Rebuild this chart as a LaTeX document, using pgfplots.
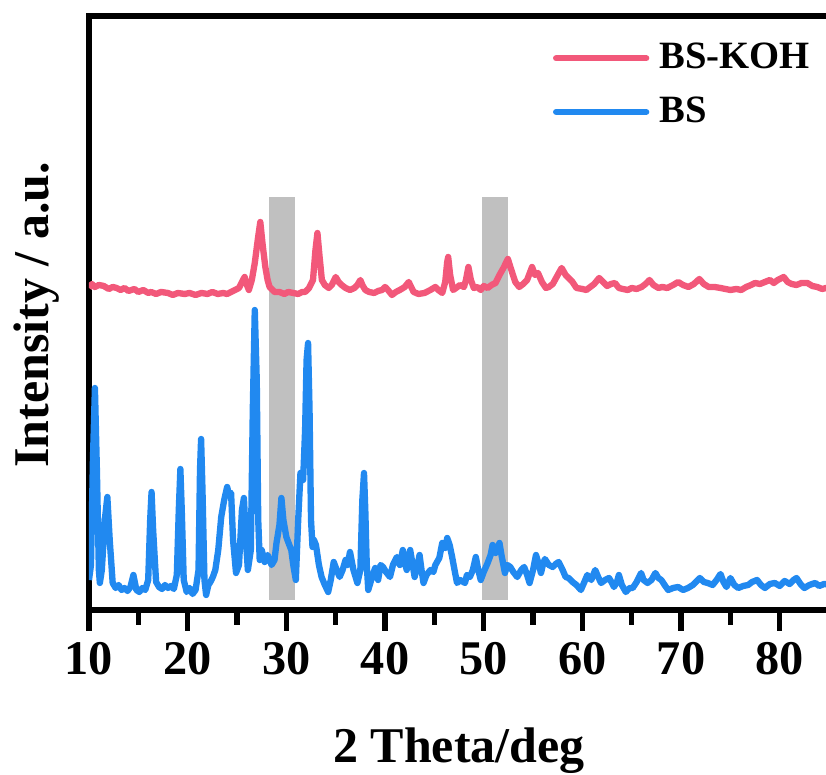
\documentclass[border=0pt]{standalone}
\usepackage{fontspec}
\setmainfont{Liberation Serif}
\usepackage{pgfplots}
\pgfplotsset{compat=1.18}
\definecolor{koh}{RGB}{242,88,122}
\definecolor{bs}{RGB}{33,137,240}
\definecolor{band}{RGB}{192,192,192}
\begin{document}
\begin{tikzpicture}
\begin{axis}[
 scale only axis, width=223.8pt, height=178.2pt,
 xmin=10, xmax=85.6, ymin=0, ymax=594,
 axis line style={line width=2pt},
 xtick={10,20,...,80}, minor xtick={15,25,...,85},
 xtick pos=lower, ytick=\empty,
 tick align=outside,
 major tick length=6.3pt, minor tick length=4.5pt,
 tick style={black, line width=1.6pt},
 /pgf/number format/assume math mode=true,
 xticklabel style={font=\bfseries\fontsize{14.5}{17}\selectfont},
 xlabel={2 Theta/deg},
 xlabel style={font=\bfseries\fontsize{15}{18}\selectfont, at={(axis description cs:0.496,0)}, anchor=base, inner sep=0pt, yshift=-45.9pt},
 ylabel={Intensity / a.u.},
 ylabel style={font=\bfseries\fontsize{15}{18}\selectfont, at={(axis description cs:-0.039,0.497)}, anchor=south, inner sep=0pt},
 legend style={at={(axis description cs:0.622,0.9545)}, anchor=north west, draw=none, fill=none, inner sep=0pt, outer sep=0pt, row sep=6.9pt, column sep=3pt, nodes={inner sep=0pt}, font=\bfseries\fontsize{11.6}{14}\selectfont},
 legend cell align=left,
 legend image code/.code={\draw[#1, line cap=round] (0pt,0pt) -- (27pt,0pt);},
 every axis plot/.append style={line width=1.9pt, line join=round},
]
\coordinate (sw) at (rel axis cs:0,0);
\coordinate (ne) at (rel axis cs:1,1);
\addplot[fill=band, draw=none, forget plot] coordinates {(28.24,10) (30.92,10) (30.92,413) (28.24,413)} --cycle;
\addplot[fill=band, draw=none, forget plot] coordinates {(49.87,10) (52.5,10) (52.5,413) (49.87,413)} --cycle;
\addplot[koh] table {
10.0 322
10.3 326
10.6 323
11.0 325
11.5 324
12.0 321
12.4 323
12.8 322
13.2 320
13.6 322
14.0 319
14.6 321
15.0 318
15.5 320
16.0 317
16.3 318
16.8 316
17.3 318
18.0 317
18.5 315
19.0 317
19.7 316
20.2 317
20.8 315
21.4 317
22.0 316
22.5 318
23.05 316
23.6 317
24.0 316
24.4 318
24.8 320
25.2 322
25.5 328
25.77 333
26.0 325
26.2 320
26.5 330
26.8 347
27.1 370
27.36 388
27.6 365
27.87 343
28.1 330
28.3 323
28.8 318
29.3 318
29.8 316
30.2 318
30.7 317
31.2 316
31.6 318
31.9 318
32.3 322
32.7 330
32.95 360
33.15 377
33.35 355
33.6 330
33.9 325
34.3 322
34.6 325
35.0 333
35.3 328
35.6 325
36.0 322
36.45 320
36.9 322
37.2 325
37.5 330
37.7 325
38.0 320
38.4 318
38.9 317
39.3 319
39.7 320
40.0 323
40.3 320
40.7 315
41.1 318
41.5 320
42.0 323
42.4 328
42.6 324
42.9 318
43.4 316
44.0 317
44.6 320
45.1 323
45.4 320
45.8 317
46.1 328
46.3 348
46.4 353
46.6 335
46.9 320
47.2 322
47.6 325
48.0 323
48.2 330
48.45 343
48.7 330
49.0 322
49.35 323
49.7 320
50.0 324
50.4 322
50.8 325
51.2 327
51.6 335
52.0 342
52.45 351
52.8 340
53.2 328
53.6 323
54.0 326
54.4 330
54.9 343
55.2 335
55.5 337
55.9 328
56.3 322
56.6 323
57.0 326
57.5 335
57.9 342
58.3 335
58.6 332
59.0 328
59.4 322
60.0 321
60.4 320
60.8 323
61.2 326
61.7 332
62.1 328
62.5 324
62.9 326
63.3 327
63.7 322
64.1 321
64.6 320
65.0 322
65.5 321
66.0 323
66.4 326
66.8 330
67.2 325
67.7 322
68.1 323
68.6 322
69.2 325
69.7 328
70.2 325
70.75 323
71.3 326
71.85 331
72.3 326
72.8 323
73.4 323
74.0 322
74.5 321
75.0 320
75.6 321
76.1 320
76.6 323
77.1 325
77.5 327
78.0 326
78.5 328
79.0 330
79.4 327
79.8 330
80.4 333
80.8 328
81.2 326
81.7 325
82.2 327
82.8 327
83.3 324
83.8 323
84.3 321
84.7 322
85.6 322
};
\addlegendentry{BS-KOH}
\addplot[bs] table {
10.0 30
10.2 45
10.4 150
10.6 222
10.8 140
11.0 40
11.1 27
11.3 40
11.6 90
11.86 113
12.1 70
12.4 27
12.7 22
13.0 25
13.3 20
13.6 22
13.9 19
14.2 23
14.5 35
14.8 20
15.1 18
15.4 22
15.7 20
16.0 30
16.2 90
16.34 118
16.5 80
16.8 28
17.1 23
17.4 21
17.7 25
18.0 22
18.3 24
18.6 21
18.9 35
19.1 100
19.26 141
19.4 100
19.6 30
19.9 18
20.2 22
20.5 16
20.8 20
21.1 40
21.25 140
21.36 171
21.5 120
21.7 30
21.87 15
22.1 25
22.3 28
22.55 33
22.8 40
23.1 60
23.4 93
23.7 110
24.0 123
24.2 115
24.4 117
24.6 70
24.9 37
25.2 45
25.5 100
25.7 112
25.9 70
26.1 40
26.4 60
26.6 200
26.8 300
27.0 230
27.15 90
27.3 50
27.5 60
27.8 48
28.1 55
28.5 45
28.8 50
29.0 67
29.3 85
29.5 112
29.7 90
30.0 73
30.3 65
30.5 60
30.7 45
30.96 30
31.2 90
31.43 137
31.7 130
31.9 180
32.05 250
32.2 267
32.35 200
32.5 90
32.65 63
32.8 70
33.0 65
33.3 45
33.57 33
33.9 25
34.24 18
34.5 30
34.8 48
35.1 40
35.4 33
35.7 40
36.0 50
36.2 45
36.45 58
36.8 40
37.2 27
37.5 40
37.7 110
37.87 137
38.0 100
38.15 45
38.3 20
38.6 30
39.0 42
39.3 30
39.55 45
39.8 43
40.1 38
40.5 33
40.8 45
41.2 53
41.5 45
41.8 60
42.0 48
42.2 40
42.55 60
42.8 45
43.0 33
43.3 45
43.5 55
43.7 40
43.9 27
44.2 35
44.6 40
44.9 38
45.1 45
45.5 52
45.8 67
46.1 62
46.3 72
46.55 65
46.8 53
47.1 37
47.3 27
47.6 30
48.1 27
48.3 35
48.6 33
48.9 40
49.2 53
49.45 40
49.7 30
50.0 38
50.4 47
50.7 55
50.9 65
51.2 57
51.4 62
51.6 67
51.8 55
52.15 37
52.4 45
52.7 43
53.0 38
53.4 33
53.8 40
54.1 43
54.4 35
54.65 27
55.0 40
55.3 55
55.6 45
55.8 37
56.0 45
56.2 51
56.6 45
57.0 43
57.3 46
57.6 48
58.0 40
58.3 33
58.6 32
59.0 28
59.4 25
59.85 20
60.2 28
60.5 35
60.9 30
61.3 40
61.6 33
61.9 27
62.3 30
62.7 32
63.0 27
63.2 23
63.5 28
63.7 35
64.0 25
64.4 18
64.8 22
65.1 22
65.5 28
65.95 37
66.2 30
66.6 27
67.0 30
67.4 37
67.7 32
68.0 30
68.4 24
68.7 20
69.2 22
69.7 23
70.2 20
70.7 22
71.2 25
71.5 28
71.9 32
72.3 28
72.7 27
73.2 25
73.6 30
74.0 36
74.3 28
74.6 23
75.0 32
75.4 25
75.8 22
76.3 24
76.8 25
77.2 28
77.7 30
78.1 25
78.5 22
79.0 26
79.5 27
80.0 24
80.5 29
81.0 26
81.4 30
81.7 32
82.1 26
82.5 22
83.0 25
83.6 27
84.0 24
84.5 26
85.6 25
};
\addlegendentry{BS}
\end{axis}
\pgfresetboundingbox
\path[use as bounding box] ([xshift=-26.7pt, yshift=-49.5pt]sw) rectangle ([xshift=-2.7pt, yshift=4.8pt]ne);
\end{tikzpicture}
\end{document}
